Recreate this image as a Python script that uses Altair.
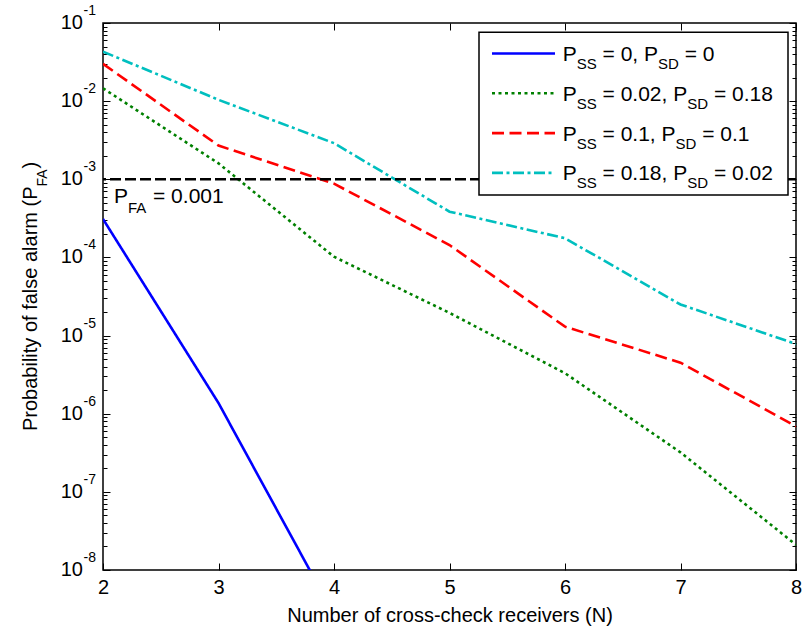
import altair as alt
import pandas as pd

# ---------------- data ----------------
N = [2, 3, 4, 5, 6, 7, 8]
N_ideal = [2, 3, 4]
pfa_ideal = [3.1e-4, 1.37e-6, 2.7e-9]
pfa_002_018 = [1.46e-2, 1.6e-3, 1.02e-4, 1.95e-5, 3.3e-6, 3.2e-7, 2.1e-8]
pfa_01_01 = [3.0e-2, 2.7e-3, 8.8e-4, 1.44e-4, 1.3e-5, 4.5e-6, 6.9e-7]
pfa_018_002 = [4.3e-2, 1.04e-2, 2.9e-3, 3.85e-4, 1.76e-4, 2.5e-5, 7.8e-6]
threshold = [1e-3]

series_keys = ["s1", "s2", "s3", "s4"]
legend_pss = ["0", "0.02", "0.1", "0.18"]
legend_psd = ["0", "0.18", "0.1", "0.02"]
decades = [1e-1, 1e-2, 1e-3, 1e-4, 1e-5, 1e-6, 1e-7, 1e-8]
decade_exp = ["-1", "-2", "-3", "-4", "-5", "-6", "-7", "-8"]
x_ticks = [2, 3, 4, 5, 6, 7, 8]
x_title = "Number of cross-check receivers (N)"
y_title_main = "Probability of false alarm (P"
y_title_sub = "FA"
y_title_end = ")"
annot_main = "P"
annot_sub = "FA"
annot_end = " = 0.001"

# ---------------- styles ----------------
FONT = "Liberation Sans"
colors = ["#0000FF", "#008000", "#FF0000", "#00BFBF"]
dashes = [[1, 0], [3, 3.5], [12, 5.5], [11, 3.5, 3, 3.5]]
W, H = 693, 547

rows = []
for key, xs_, ys_ in zip(series_keys, [N_ideal, N, N, N],
                         [pfa_ideal, pfa_002_018, pfa_01_01, pfa_018_002]):
    for a, b in zip(xs_, ys_):
        rows.append({"series": key, "N": a, "P": b})
df = pd.DataFrame(rows)

minor = []
for k in range(-8, -1):
    for m in range(2, 10):
        minor.append(m * 10.0 ** k)

xsc = alt.Scale(domain=[2, 8], nice=False, zero=False)
ysc = alt.Scale(type="log", domain=[1e-8, 1e-1], nice=False)

# Arial / Liberation Sans advance widths
CW = {' ': 278, '(': 333, ')': 333, ',': 278, '-': 333, '.': 278, '=': 584,
      'A': 667, 'D': 722, 'F': 611, 'N': 722, 'P': 667, 'S': 667,
      'a': 556, 'b': 556, 'c': 500, 'e': 556, 'f': 278, 'h': 556, 'i': 222,
      'k': 500, 'l': 222, 'm': 833, 'o': 556, 'r': 333, 's': 500, 't': 278,
      'v': 500, 'y': 500}


def tw(s, fs):
    return sum(CW.get(c, 556) for c in s) * fs / 1000.0


def tick_axis(orient, values, size, labels=False, **kw):
    return alt.Axis(orient=orient, values=values, domain=False, ticks=True,
                    tickSize=size, offset=-size, tickColor="black", tickWidth=1,
                    labels=labels, grid=False, **kw)


# ---------------- main lines ----------------
lines = alt.Chart(df).mark_line(strokeWidth=2.6, clip=True, strokeCap="butt").encode(
    x=alt.X("N:Q", scale=xsc, axis=tick_axis(
        "bottom", x_ticks, 7, labels=True, format="d", labelFont=FONT,
        labelFontSize=20, labelColor="black", labelPadding=7.5, labelFlush=False,
        labelOverlap=False, title=x_title, titleFont=FONT, titleFontSize=20,
        titleFontWeight="normal", titleColor="black", titlePadding=7.5)),
    y=alt.Y("P:Q", scale=ysc, axis=tick_axis("left", decades, 7, title=None)),
    color=alt.Color("series:N", scale=alt.Scale(domain=series_keys, range=colors), legend=None),
    strokeDash=alt.StrokeDash("series:N", scale=alt.Scale(domain=series_keys, range=dashes), legend=None),
)

thr = alt.Chart(pd.DataFrame({"P": threshold})).mark_rule(
    color="black", strokeWidth=2.6, strokeDash=[11, 4]).encode(
    y=alt.Y("P:Q", scale=ysc, axis=None))

ghost = alt.Chart(df).mark_point(opacity=0)
axes_tr = ghost.encode(
    x=alt.X("N:Q", scale=xsc, axis=tick_axis("top", x_ticks, 7, title=None)),
    y=alt.Y("P:Q", scale=ysc, axis=tick_axis("right", decades, 7, title=None)))
minor_l = ghost.encode(
    x=alt.X("N:Q", scale=xsc, axis=None),
    y=alt.Y("P:Q", scale=ysc, axis=tick_axis("left", minor, 4, title=None)))
minor_r = ghost.encode(
    x=alt.X("N:Q", scale=xsc, axis=None),
    y=alt.Y("P:Q", scale=ysc, axis=tick_axis("right", minor, 4, title=None)))

dec_df = pd.DataFrame({"v": decades, "e": decade_exp})
ylab10 = alt.Chart(dec_df).mark_text(text="10", align="right", baseline="middle",
                                     font=FONT, fontSize=20, color="black").encode(
    x=alt.value(-20), y=alt.Y("v:Q", scale=ysc, axis=None))
ylabexp = alt.Chart(dec_df).mark_text(align="left", baseline="middle", dy=-12,
                                      font=FONT, fontSize=14, color="black").encode(
    x=alt.value(-19.5), y=alt.Y("v:Q", scale=ysc, axis=None), text="e:N")

layers = [lines, thr, axes_tr, minor_l, minor_r, ylab10, ylabexp]


def piece(txt, px, py, fs, angle=None):
    kw = dict(align="left", baseline="alphabetic", font=FONT, fontSize=fs, color="black")
    if angle is not None:
        kw["angle"] = angle
    return alt.Chart(pd.DataFrame({"t": [txt]})).mark_text(**kw).encode(
        x=alt.value(px), y=alt.value(py), text="t:N")


def run_pieces(parts, x0, y0, vertical=False):
    """parts: (text, fontsize, baseline-shift). Leading spaces become offsets."""
    out = []
    c = 0.0
    for txt, fs, sh in parts:
        lead = len(txt) - len(txt.lstrip(" "))
        c += tw(" " * lead, fs)
        t = txt.lstrip(" ")
        if vertical:
            out.append(piece(t, x0 + sh, y0 - c, fs, angle=270))
        else:
            out.append(piece(t, x0 + c, y0 + sh, fs))
        c += tw(t, fs)
    return out, c


# ---------------- legend ----------------
LX0, LX1, LY0, LY1 = 376, 685, 9.3, 172
layers.append(alt.Chart(pd.DataFrame({"a": [0]})).mark_rect(
    fill="white", stroke="black", strokeWidth=1.5).encode(
    x=alt.value(LX0), x2=alt.value(LX1), y=alt.value(LY0), y2=alt.value(LY1)))
LM, LS = 21, 15
for i in range(4):
    ly = 30.5 + 39.8 * i
    layers.append(alt.Chart(pd.DataFrame({"a": [0]})).mark_rule(
        color=colors[i], strokeWidth=2.6, strokeDash=dashes[i], strokeCap="butt").encode(
        x=alt.value(389), x2=alt.value(452), y=alt.value(ly)))
    parts = [("P", LM, 0), ("SS", LS, 8), (" = " + legend_pss[i] + ", P", LM, 0),
             ("SD", LS, 8), (" = " + legend_psd[i], LM, 0)]
    pcs, _ = run_pieces(parts, 459.7, ly + 7.5)
    layers += pcs

# ---------------- annotation ----------------
pcs, _ = run_pieces([(annot_main, 21, 0), (annot_sub, 15, 10), (annot_end, 21, 0)], 11, 180)
layers += pcs

# ---------------- rotated y title ----------------
yparts = [(y_title_main, 20, 0), (y_title_sub, 14, 10), (y_title_end, 20, 0)]
total = sum(tw(t, fs) for t, fs, _ in yparts)
pcs, _ = run_pieces(yparts, -66, H / 2 + total / 2, vertical=True)
layers += pcs

chart = alt.layer(*layers).resolve_axis(x="independent", y="independent").properties(
    width=W, height=H,
    autosize=alt.AutoSizeParams(type="none"),
    padding={"left": 103, "top": 23, "right": 13, "bottom": 57},
    background="white",
).configure_view(stroke="black", strokeWidth=1.5)

chart.save("out.html", embed_options={"renderer": "svg", "actions": False})
